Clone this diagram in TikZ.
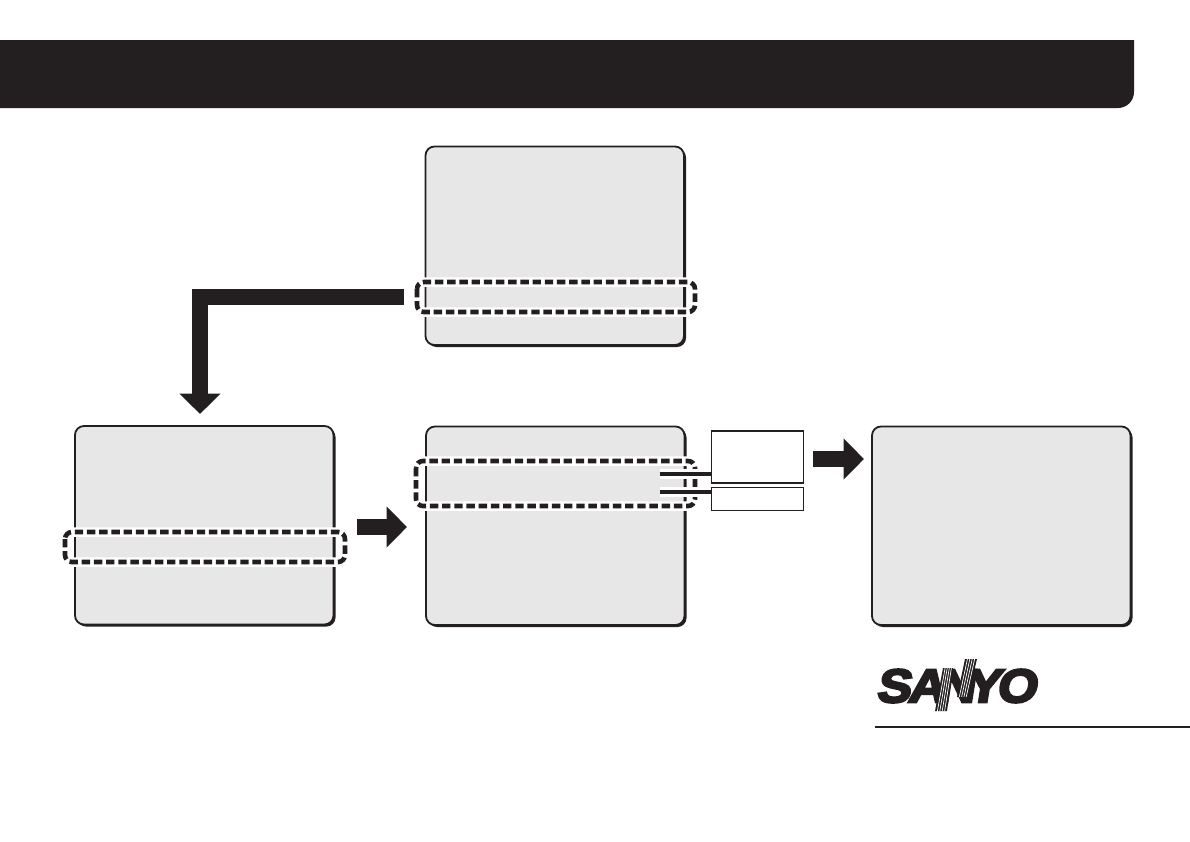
\documentclass[tikz,border=0pt]{standalone}
\usepackage{fontspec}
\newfontfamily\logofont[FakeBold=5,FakeSlant=0.16,FakeStretch=1.1]{Liberation Sans Bold}
\usetikzlibrary{arrows.meta,shadows,calc}
\definecolor{ink}{HTML}{231F20}
\definecolor{screenfill}{HTML}{E7E7E7}
\tikzset{
  x=1pt,y=-1pt,
  screenbox/.style={rectangle,draw=ink,fill=screenfill,line width=1.8pt,rounded corners=9pt,
    minimum width=258.5pt,minimum height=198.5pt,inner sep=0pt,outer sep=0pt,anchor=north west,
    general shadow={fill=ink,shadow xshift=2pt,shadow yshift=-2pt}},
  halo/.style={draw=white,line width=9.5pt,rounded corners=7pt},
  dashline/.style={draw=ink,line width=4.6pt,rounded corners=7pt,dash pattern=on 8.4pt off 3.8pt},
  leader/.style={draw=ink,line width=4.2pt},
  leaderhalo/.style={draw=white,line width=10pt},
  labelbox/.style={rectangle,draw=ink,fill=white,line width=1.8pt,inner sep=0pt,outer sep=0pt,
    minimum width=92pt,anchor=north west},
  fat/.style={draw=ink,line width=16pt,-{Triangle[length=20.5pt,width=40pt,fill=ink]}},
  logostripe/.style={draw=white,line width=0.7pt},
}
\newcommand{\dashedframe}[4]{%
  \draw[halo] (#1,#2) rectangle (#3,#4);
  \draw[dashline] (#1,#2) rectangle (#3,#4);
}
\begin{document}
\begin{tikzpicture}
\useasboundingbox (0,0) rectangle (1190,841);
% header band
\fill[ink,rounded corners=16pt] (0,40) [sharp corners] -- (1134,40) [rounded corners=16pt] -- (1134,108) [sharp corners] -- (0,108) -- cycle;
% screens
\node[screenbox] (top) at (425.5,146.5) {};
\node[screenbox] (left) at (75,426) {};
\node[screenbox] (mid) at (426,426.5) {};
\node[screenbox] (right) at (872,426.5) {};
% dashed frames
\dashedframe{417}{282}{695}{312}
\dashedframe{65}{532}{345}{562}
\dashedframe{416}{461}{695}{506}
\coordinate (framewest) at (415,297);
% label boxes
\coordinate (leadA) at (660,474);
\coordinate (leadB) at (660,492);
\draw[leaderhalo] (leadA) -- (706,474);
\draw[leaderhalo] (leadB) -- (706,492);
\node[labelbox,minimum height=52pt] (boxA) at (711.5,431) {};
\node[labelbox,minimum height=23pt] (boxB) at (711.5,487.5) {};
\draw[leader] (leadA) -- (boxA.west |- leadA);
\draw[leader] (leadB) -- (boxB.west |- leadB);
% arrows
\coordinate (bend) at (200,297);
\draw[fat,shorten <=11pt,shorten >=12pt] (framewest) -- (bend) -- (bend |- left.north);
\coordinate (a2s) at (357,527);
\coordinate (a2e) at (407,527);
\draw[fat] (a2s) -- (a2e);
\coordinate (a3s) at (813,459);
\coordinate (a3e) at (864,459);
\draw[fat] (a3s) -- (a3e);
% logo
\node[inner sep=0pt,outer sep=0pt,anchor=center,text=ink] (logo) at (956,686) {\logofont\fontsize{47}{47}\selectfont S\kern-3ptA\kern-7.5ptN\kern-9ptY\kern-4ptO};
% striped stems of the N
\fill[ink] (935,711) -- (947,711) -- (953,668) -- (943,668) -- cycle;
\fill[ink] (957,697) -- (968,697) -- (977,659) -- (965,659) -- cycle;
\foreach \i in {1,2,3,4} {
  \draw[logostripe] (935+2.4*\i,711) -- (943+2.1*\i,668);
  \draw[logostripe] (957+2.3*\i,697) -- (965+2.4*\i,659);
}
\coordinate (ruleS) at (875,727);
\coordinate (ruleE) at (1190,727);
\draw[ink,line width=2pt] (ruleS) -- (ruleE);
\end{tikzpicture}
\end{document}
